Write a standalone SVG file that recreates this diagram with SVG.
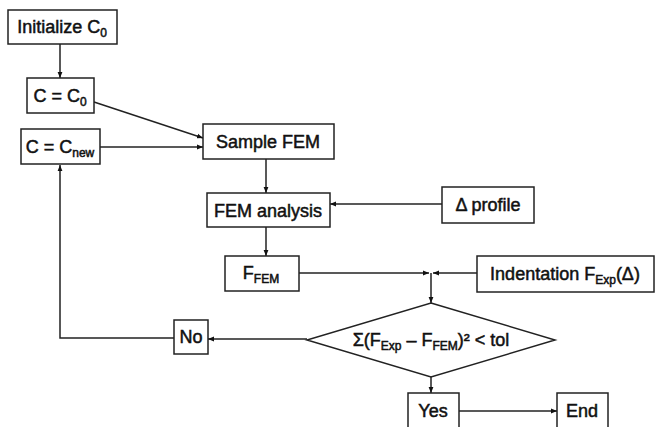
<svg xmlns="http://www.w3.org/2000/svg" width="661" height="427" viewBox="0 0 661 427">
<defs>
<marker id="ah" viewBox="0 0 10 10" refX="10" refY="5" markerWidth="6" markerHeight="6" markerUnits="userSpaceOnUse" orient="auto">
<path d="M0,1 L10,5 L0,9 Z" fill="#111"/>
</marker>
</defs>
<style>
.b{fill:#fff;stroke:#222;stroke-width:1.5}
.t{font-family:"Liberation Sans",Arial,sans-serif;font-size:18px;fill:#111;stroke:#111;stroke-width:0.5;text-anchor:middle}
.s{font-size:12px}
.c{fill:none;stroke:#222;stroke-width:1.5}
</style>
<rect width="661" height="427" fill="#fff"/>
<g id="connectors">
<line class="c" x1="60" y1="44" x2="60" y2="78" marker-end="url(#ah)"/>
<line class="c" x1="94" y1="102" x2="203" y2="138" marker-end="url(#ah)"/>
<line class="c" x1="100" y1="147" x2="203" y2="147" marker-end="url(#ah)"/>
<line class="c" x1="266" y1="159" x2="266" y2="193" marker-end="url(#ah)"/>
<line class="c" x1="442" y1="204" x2="330" y2="204" marker-end="url(#ah)"/>
<line class="c" x1="266" y1="227" x2="266" y2="256" marker-end="url(#ah)"/>
<line class="c" x1="299" y1="273" x2="429" y2="273" marker-end="url(#ah)"/>
<line class="c" x1="477" y1="273" x2="433" y2="273" marker-end="url(#ah)"/>
<line class="c" x1="431" y1="273" x2="431" y2="303" marker-end="url(#ah)"/>
<line class="c" x1="307" y1="339" x2="208" y2="339" marker-end="url(#ah)"/>
<polyline class="c" points="174,338 60,338 60,165" marker-end="url(#ah)"/>
<line class="c" x1="431" y1="377" x2="431" y2="393" marker-end="url(#ah)"/>
<line class="c" x1="459" y1="411" x2="557" y2="411" marker-end="url(#ah)"/>
</g>
<g id="init">
<rect class="b" x="8" y="10" width="109" height="34"/>
<text class="t" x="62" y="33">Initialize C<tspan class="s" dy="4">0</tspan></text>
</g>
<g id="c0">
<rect class="b" x="27" y="78" width="67" height="35"/>
<text class="t" x="60" y="102">C = C<tspan class="s" dy="4">0</tspan></text>
</g>
<g id="cnew">
<rect class="b" x="21" y="129" width="79" height="35"/>
<text class="t" x="60" y="153">C = C<tspan class="s" dy="4">new</tspan></text>
</g>
<g id="sample">
<rect class="b" x="203" y="124" width="131" height="35"/>
<text class="t" x="268" y="148">Sample FEM</text>
</g>
<g id="fem">
<rect class="b" x="207" y="193" width="123" height="34"/>
<text class="t" x="268" y="217">FEM analysis</text>
</g>
<g id="profile">
<rect class="b" x="442" y="187" width="92" height="36"/>
<text class="t" x="488" y="211">Δ profile</text>
</g>
<g id="ffem">
<rect class="b" x="225" y="256" width="74" height="35"/>
<text class="t" x="261" y="279">F<tspan class="s" dy="4">FEM</tspan></text>
</g>
<g id="indent">
<rect class="b" x="477" y="256" width="177" height="36"/>
<text class="t" x="565" y="280">Indentation F<tspan class="s" dy="4">Exp</tspan><tspan dy="-4">(Δ)</tspan></text>
</g>
<g id="check">
<polygon class="b" points="431,303 555,340 431,377 307,340"/>
<text class="t" x="431" y="346">Σ(F<tspan class="s" dy="4">Exp</tspan><tspan dy="-4"> – F</tspan><tspan class="s" dy="4">FEM</tspan><tspan dy="-4">)² &lt; tol</tspan></text>
</g>
<g id="no">
<rect class="b" x="174" y="320" width="34" height="34"/>
<text class="t" x="191" y="343">No</text>
</g>
<g id="yes">
<rect class="b" x="408" y="393" width="51" height="36"/>
<text class="t" x="433" y="417">Yes</text>
</g>
<g id="end">
<rect class="b" x="557" y="393" width="51" height="36"/>
<text class="t" x="582" y="417">End</text>
</g>
</svg>
